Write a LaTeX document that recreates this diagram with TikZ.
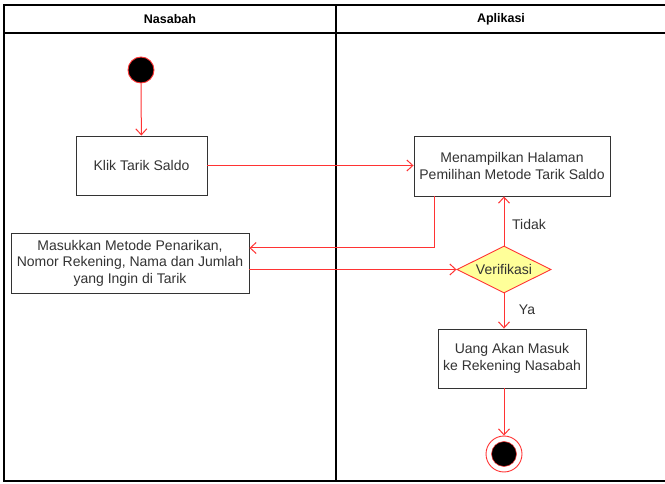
\documentclass[tikz,border=0pt]{standalone}
\usepackage{fontspec}
\setmainfont{Liberation Sans}
\usetikzlibrary{arrows.meta,shapes.geometric}
\definecolor{flow}{HTML}{FF3333}
\definecolor{edge}{HTML}{333333}
\definecolor{decide}{HTML}{FFFF99}
\tikzset{
  act/.style={draw=edge, line width=0.9pt, fill=white, align=center, font=\fontsize{14}{16.5}\selectfont, text=black!80, inner sep=0pt},
  flowline/.style={draw=flow, line width=1pt, -{Straight Barb[length=6pt,width=11pt]}},
  lane/.style={draw=black, line width=1.3pt},
  lbl/.style={font=\fontsize{14}{16.5}\selectfont, text=black!80}
}
\begin{document}
\begin{tikzpicture}[x=1pt,y=-1pt]
\useasboundingbox (0,0) rectangle (665,484);
% swimlanes
\draw[lane] (4,5) rectangle (666,481);
\draw[lane] (4,33) -- (666,33);
\draw[lane] (336,5) -- (336,481);
\node[font=\bfseries\fontsize{12.5}{15}\selectfont] (h1) at (170,19) {Nasabah};
\node[font=\bfseries\fontsize{12.5}{15}\selectfont] (h2) at (501,19) {Aplikasi};
% start
\node[circle, fill=black, draw=flow, line width=0.9pt, minimum size=26pt, inner sep=0pt] (start) at (141,70) {};
% activities
\node[act, minimum width=131pt, minimum height=59pt] (klik) at (141.5,165.5) {Klik Tarik Saldo};
\node[act, minimum width=238pt, minimum height=60pt] (masuk) at (130,263) {Masukkan Metode Penarikan,\\Nomor Rekening, Nama dan Jumlah\\yang Ingin di Tarik};
\node[act, minimum width=196pt, minimum height=60pt] (tampil) at (512,166) {Menampilkan Halaman\\Pemilihan Metode Tarik Saldo};
\node[diamond, draw=flow, fill=decide, line width=0.9pt, minimum width=94pt, minimum height=47pt, inner sep=0pt, aspect=2, font=\fontsize{14}{16.5}\selectfont, text=black!80] (verif) at (504,269.5) {Verifikasi};
\node[act, minimum width=148pt, minimum height=59pt] (uang) at (512,358.5) {Uang Akan Masuk\\ke Rekening Nasabah};
% end
\node[circle, draw=flow, fill=white, line width=0.9pt, minimum size=36pt, inner sep=0pt] (fin) at (504,454) {};
\node[circle, fill=black, draw=flow, line width=0.5pt, minimum size=25pt, inner sep=0pt] (finin) at (fin) {};
% flows
\draw[flowline] (start) -- (klik);
\draw[flowline] (klik.east) -- (tampil.west |- klik.east);
\draw[flowline] (tampil.south -| 434,0) -- (434,248) -- (masuk.east |- 0,248);
\draw[flowline] (masuk.east |- 0,269.5) -- (verif.west);
\draw[flowline] (verif.north) -- (tampil.south -| verif.north);
\draw[flowline] (verif.south) -- (uang.north -| verif.south);
\draw[flowline] (uang.south -| verif.south) -- (fin.north);
\node[lbl] (tidak) at (529,224) {Tidak};
\node[lbl] (ya) at (527,310) {Ya};
\end{tikzpicture}
\end{document}
